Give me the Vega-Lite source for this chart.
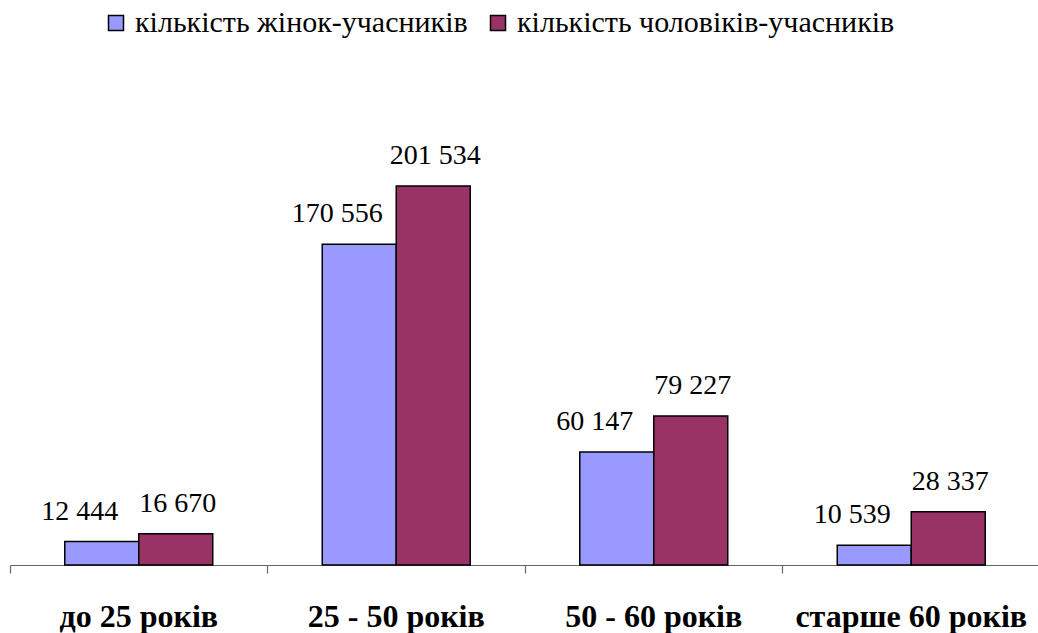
{
  "$schema": "https://vega.github.io/schema/vega-lite/v6.json",
  "width": 1030,
  "height": 470,
  "autosize": {"type": "none"},
  "padding": {"left": 10, "top": 95, "right": 0, "bottom": 68},
  "background": "white",
  "config": {"view": {"stroke": null}, "font": "Liberation Serif"},
  "data": {
    "values": [
      {"age": "до 25 років", "gender": "кількість жінок-учасників", "value": 12444, "label": "12 444"},
      {"age": "до 25 років", "gender": "кількість чоловіків-учасників", "value": 16670, "label": "16 670"},
      {"age": "25 - 50 років", "gender": "кількість жінок-учасників", "value": 170556, "label": "170 556"},
      {"age": "25 - 50 років", "gender": "кількість чоловіків-учасників", "value": 201534, "label": "201 534"},
      {"age": "50 - 60 років", "gender": "кількість жінок-учасників", "value": 60147, "label": "60 147"},
      {"age": "50 - 60 років", "gender": "кількість чоловіків-учасників", "value": 79227, "label": "79 227"},
      {"age": "старше 60 років", "gender": "кількість жінок-учасників", "value": 10539, "label": "10 539"},
      {"age": "старше 60 років", "gender": "кількість чоловіків-учасників", "value": 28337, "label": "28 337"}
    ]
  },
  "encoding": {
    "x": {
      "field": "age", "type": "nominal", "sort": null,
      "scale": {"paddingInner": 0, "paddingOuter": 0},
      "axis": {
        "title": null, "labelAngle": 0, "bandPosition": 0,
        "domainColor": "#666", "domainWidth": 1.2, "tickColor": "#666", "tickSize": 8, "tickWidth": 1.2,
        "labelFont": "Liberation Serif", "labelFontWeight": "bold", "labelFontSize": 32, "labelColor": "black",
        "labelBaseline": "alphabetic", "labelPadding": 53, "labelAlign": "center", "labelLimit": 500
      }
    },
    "xOffset": {
      "field": "gender", "type": "nominal", "sort": null,
      "scale": {"paddingInner": 0, "paddingOuter": 0.74}
    },
    "y": {
      "field": "value", "type": "quantitative",
      "scale": {"domain": [0, 250000], "nice": false},
      "axis": null
    }
  },
  "layer": [
    {
      "mark": {"type": "bar", "stroke": "black", "strokeWidth": 1.5},
      "encoding": {
        "color": {
          "field": "gender", "type": "nominal", "sort": null,
          "scale": {"domain": ["кількість жінок-учасників", "кількість чоловіків-учасників"], "range": ["#9999FF", "#993366"]},
          "legend": {
            "title": null, "orient": "none", "direction": "horizontal",
            "legendX": 91, "legendY": -87, "padding": 0,
            "symbolType": "square", "symbolSize": 225, "symbolStrokeColor": "black", "symbolStrokeWidth": 1.5,
            "labelFont": "Liberation Serif", "labelFontSize": 30, "labelColor": "black", "labelOffset": 4,
            "columnPadding": 15, "labelLimit": 600
          }
        }
      }
    },
    {
      "transform": [{"filter": "datum.gender === 'кількість жінок-учасників'"}],
      "mark": {"type": "text", "baseline": "alphabetic", "dy": -22, "dx": -22, "fontSize": 28, "font": "Liberation Serif", "color": "black"},
      "encoding": {"text": {"field": "label"}}
    },
    {
      "transform": [{"filter": "datum.gender === 'кількість чоловіків-учасників'"}],
      "mark": {"type": "text", "baseline": "alphabetic", "dy": -22, "dx": 2, "fontSize": 28, "font": "Liberation Serif", "color": "black"},
      "encoding": {"text": {"field": "label"}}
    }
  ]
}
